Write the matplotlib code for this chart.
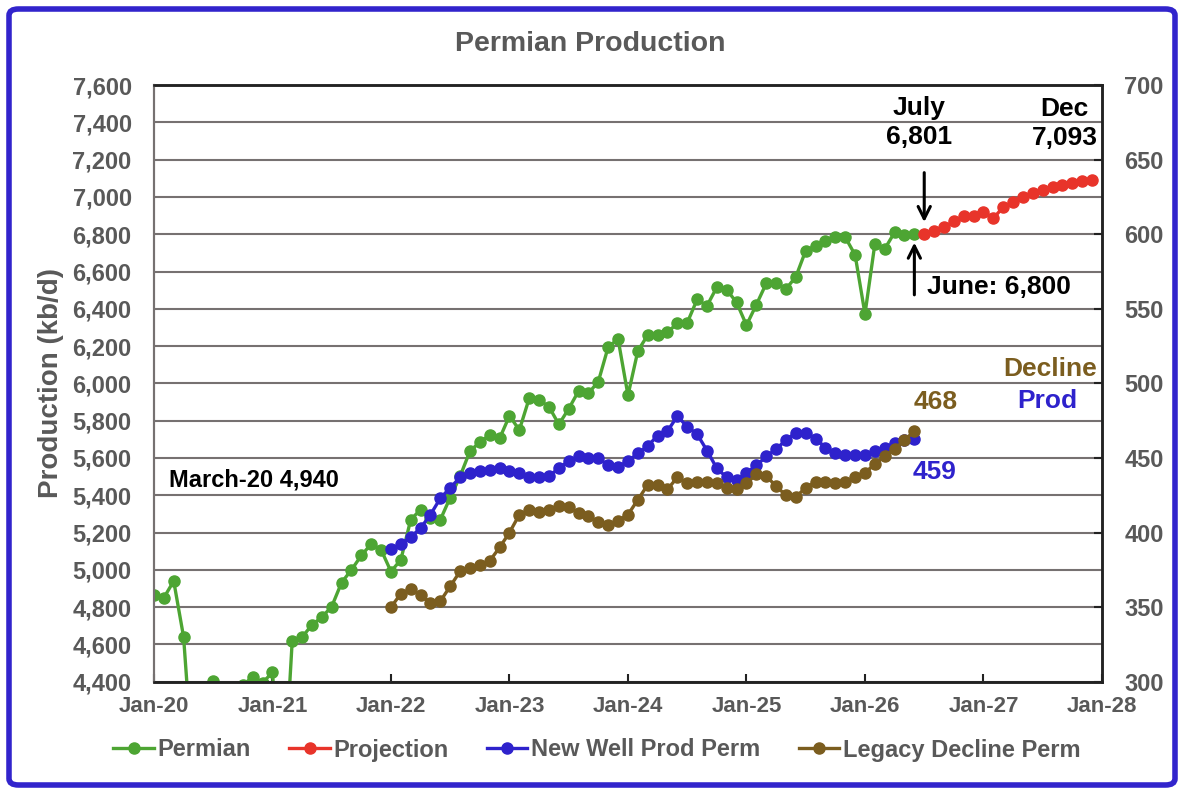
"""Permian production chart, left axis kb/d, right axis new well / decline."""
import matplotlib
matplotlib.use('Agg')
import matplotlib.pyplot as plt
from matplotlib.patches import FancyBboxPatch
from matplotlib.ticker import FuncFormatter

plt.rcParams['font.family'] = ['Liberation Sans', 'DejaVu Sans']
plt.rcParams['font.weight'] = 'bold'

# months counted from Jan-2020
permian_months = list(range(0, 78))
permian = [
    4866, 4850, 4940, 4640, 3900, 4000, 4403, 4250, 4300, 4380, 4427, 4395,
    4450, 3700, 4620, 4639, 4705, 4746, 4803, 4932, 5000, 5077, 5139, 5108,
    4991, 5054, 5269, 5323, 5278, 5269, 5388, 5502, 5637, 5685, 5723, 5705,
    5826, 5750, 5920, 5911, 5875, 5780, 5864, 5959, 5947, 6010, 6196, 6237,
    5936, 6174, 6259, 6259, 6273, 6323, 6325, 6450, 6416, 6516, 6502, 6434,
    6312, 6422, 6536, 6537, 6506, 6572, 6712, 6738, 6765, 6784, 6784, 6689,
    6372, 6748, 6721, 6810, 6795, 6800,
]

proj_months = list(range(78, 96))
projection = [
    6801, 6815, 6838, 6869, 6896, 6900, 6921, 6886, 6945, 6972, 6999, 7022,
    7036, 7052, 7064, 7076, 7086, 7093,
]

prod_months = list(range(24, 78))
new_well = [
    389, 392, 397, 403, 412, 423, 430, 437, 440, 441, 442, 443,
    441, 440, 437, 437, 438, 443, 448, 451, 450, 450, 445, 444,
    448, 453, 458, 465, 468, 478, 471, 466, 455, 443, 437, 435,
    440, 445, 451, 456, 462, 467, 467, 463, 457, 453, 452, 452,
    452, 455, 457, 460, 462, 463,
]
legacy = [
    350, 359, 362, 358, 353, 354, 364, 374, 376, 378, 381, 390,
    400, 412, 415, 414, 415, 418, 417, 413, 411, 407, 405, 408,
    412, 422, 432, 432, 429, 437, 433, 434, 434, 433, 430, 429,
    433, 439, 438, 431, 425, 424, 430, 434, 434, 433, 434, 437,
    440, 446, 451, 456, 462, 468,
]

x_ticks = list(range(0, 97, 12))
x_labels = ['Jan-20', 'Jan-21', 'Jan-22', 'Jan-23', 'Jan-24',
            'Jan-25', 'Jan-26', 'Jan-27', 'Jan-28']

GREEN = '#4DA533'
RED = '#E8342A'
BLUE = '#2E22CC'
BROWN = '#7B5D1F'
GRAY = '#595959'
GRID = '#767171'

fig = plt.figure(figsize=(11.88, 7.94), dpi=100)
ax = fig.add_axes([0.1296, 0.1414, 0.798, 0.7515])
ax2 = ax.twinx()

style = dict(lw=2.4, marker='o', ms=8)
l1, = ax.plot(permian_months, permian, color=GREEN, label='Permian', **style)
l2, = ax.plot(proj_months, projection, color=RED, label='Projection', **style)
l3, = ax2.plot(prod_months, new_well, color=BLUE,
               label='New Well Prod Perm', **style)
l4, = ax2.plot(prod_months, legacy, color=BROWN,
               label='Legacy Decline Perm', **style)

ax.set_xlim(0, 96)
ax.set_ylim(4400, 7600)
ax2.set_ylim(300, 700)
ax.set_yticks(range(4400, 7601, 200))
ax2.set_yticks(range(300, 701, 50))
ax.yaxis.set_major_formatter(FuncFormatter(lambda v, p: '{:,.0f}'.format(v)))
ax.set_xticks(x_ticks)
ax.set_xticklabels(x_labels)

ax.grid(axis='y', color=GRID, lw=1.5)
ax.set_axisbelow(True)
ax.tick_params(axis='x', direction='in', length=6, width=1.5, color='#222222',
               labelsize=16, labelcolor=GRAY, pad=10)
ax.tick_params(axis='y', length=0, labelsize=17, labelcolor=GRAY, pad=16)
ax2.tick_params(axis='y', direction='in', length=6, width=1.5,
                color='#222222', labelsize=17, labelcolor=GRAY, pad=16)
for a in (ax, ax2):
    for name in ('top', 'right', 'bottom'):
        a.spines[name].set_color('#222222')
        a.spines[name].set_linewidth(1.8)
    a.spines['left'].set_color(GRID)
    a.spines['left'].set_linewidth(1.5)

ax.set_ylabel('Production (kb/d)', fontsize=20, color=GRAY,
              fontweight='bold', labelpad=6)
fig.text(0.497, 0.945, 'Permian Production', ha='center', va='center',
         fontsize=20.5, color=GRAY)

# annotations
ax.text(1.5, 5484, 'March-20 4,940', fontsize=17, va='center')
ax.text(77.5, 7400, 'July\n6,801', fontsize=19, ha='center', va='center',
        linespacing=1.25)
ax.text(92.2, 7395, 'Dec\n7,093', fontsize=19, ha='center', va='center',
        linespacing=1.25)
ax.text(78.3, 6517, 'June: 6,800', fontsize=19, va='center')
ax.text(95.5, 6076, 'Decline', fontsize=19, ha='right', va='center',
        color=BROWN)
ax.text(90.5, 5904, 'Prod', fontsize=19, ha='center', va='center', color=BLUE)
ax.text(79.2, 5898, '468', fontsize=19, ha='center', va='center', color=BROWN)
ax.text(79.0, 5527, '459', fontsize=19, ha='center', va='center', color=BLUE)

arrow = dict(arrowstyle='->', lw=2.2, color='black', mutation_scale=22)
ax.annotate('', xy=(78, 6850), xytext=(78, 7145), arrowprops=arrow)
ax.annotate('', xy=(77, 6770), xytext=(77, 6460), arrowprops=arrow)

fig.legend(handles=[l1, l2, l3, l4], loc='center',
           bbox_to_anchor=(597 / 1188, 1 - 750 / 794), ncol=4, frameon=False,
           fontsize=17, labelcolor=GRAY, handlelength=1.7,
           handletextpad=0.15, columnspacing=1.65)

border = FancyBboxPatch((9 / 1188, 9 / 794), 1166 / 1188, 776 / 794,
                        boxstyle='round,pad=0,rounding_size=0.008',
                        transform=fig.transFigure, fill=False,
                        edgecolor='#3224CC', lw=4)
fig.patches.append(border)

fig.savefig('out.png', dpi=100)
plt.close(fig)
